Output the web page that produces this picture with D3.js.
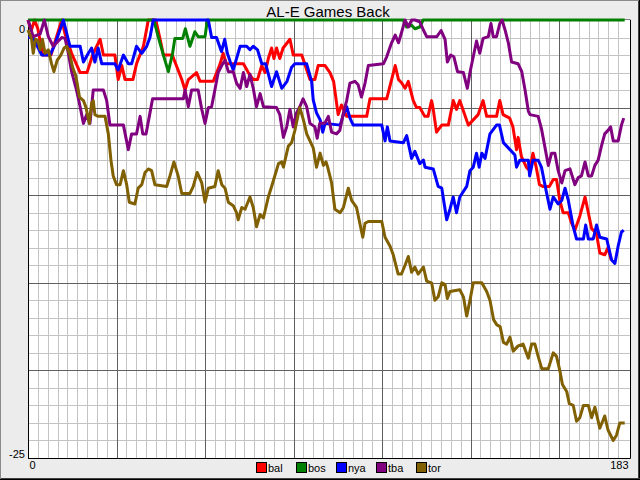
<!DOCTYPE html>
<html><head><meta charset="utf-8">
<script src="https://cdn.jsdelivr.net/npm/d3@7"></script>
<style>html,body{margin:0;padding:0;background:#ececec;}svg{display:block;}</style>
</head><body>
<svg id="c" width="640" height="480"></svg>
<script>
const title = "AL-E Games Back";
const teams = ["bal", "bos", "nya", "tba", "tor"];
const colors = ["#ff0000", "#008000", "#0000ff", "#800080", "#806000"];
const xTickLabels = [0, 183];
const yTickLabels = [0, -25];

// [day, games back]
const bal = [[0,0],[1,-0.6],[2,0],[3,-0.5],[4.5,-2],[7,-2],[10.3,0],[11.3,-0.8],[13.3,-1.9],[15.9,-3],[18,-3],[19.9,-1.9],[22,-1.1],[23,-2],[26.5,-2],[27.5,-3.4],[28.6,-2.6],[29.6,-3.4],[32,-3.4],[33.1,-2.5],[35.2,-1.5],[36.7,0],[39,0],[40.3,-1.1],[41.3,-2],[44,-2],[46.9,-3.4],[47.9,-4],[48.9,-3.4],[51.4,-3],[52.5,-3.5],[56.5,-3.5],[58.6,-2.5],[59.5,-1.9],[60.5,-2.5],[65.7,-2.5],[67.2,-3],[68.7,-3.4],[70,-3.4],[71.3,-2.6],[72.3,-3],[73.3,-2.2],[74.3,-1.6],[75,-2.2],[75.8,-1.6],[76.8,-2.2],[77.8,-1.6],[79.9,-1.1],[80.9,-2],[83.5,-2],[86,-3.4],[87.5,-3.4],[88.5,-2.6],[90.6,-2.6],[92.1,-3],[93.2,-3.5],[94.6,-5.4],[95.6,-4.85],[97.2,-5.5],[103.3,-5.5],[104.3,-4.5],[109.4,-4.5],[110.9,-3.4],[112,-2.6],[113,-3.4],[114,-3.6],[115,-3.9],[116,-3.5],[117.5,-4.6],[118.5,-5],[119.5,-5],[121,-5.5],[122,-5.5],[122.6,-5],[123.1,-4.6],[123.6,-5.1],[124.6,-6.4],[126.2,-6],[128.2,-6],[129.7,-4.6],[130.7,-5.1],[131.7,-4.6],[134.3,-6],[135.8,-5.7],[137.3,-5.4],[138.8,-4.6],[139.9,-5.5],[142.9,-5.5],[143.9,-4.6],[144.9,-5.4],[146.9,-5.6],[147.9,-6.1],[149,-7.4],[149.5,-6.7],[150.5,-7.8],[152,-8.4],[153,-8.6],[154,-7.6],[155,-8.4],[156,-9.4],[157,-9.5],[159,-9.5],[160.2,-9.1],[161.2,-9.1],[162.2,-10.3],[163.2,-11],[164.8,-11],[165.8,-11.6],[166.8,-12],[168.3,-11.2],[169.9,-10.1],[170.9,-11],[171.9,-11.9],[173.4,-12.2],[174.4,-13.3],[175.9,-13.4],[176.9,-13],[177.9,-13.7]];
const bos = [[0,0],[38.4,0],[39.7,-0.95],[41.3,-2],[42.8,-2.95],[44.1,-1.9],[44.8,-1.05],[47.2,-1.05],[48,-0.5],[49.4,-1.5],[50.9,-0.67],[51.9,-0.95],[54,-0.95],[54.7,0],[114.5,0],[115.5,-0.4],[117,-0.3],[118,-0.5],[119.5,-0.4],[120.5,0],[182,0]];
const nya = [[0,-1],[1.5,-1],[4.2,-2],[6.7,-2],[8.2,-1.4],[10.8,0],[12.8,-1.5],[15.9,-1.5],[16.9,-2.4],[18.4,-1.9],[19.4,-1.6],[20.4,-2.4],[21.4,-1.6],[22.5,-2.5],[26.5,-2.5],[27.5,-2.85],[29.1,-2],[30.6,-2.5],[31.6,-2.5],[33.1,-1.5],[34.7,-1.9],[36.2,-1.5],[37.2,-1],[38.2,0],[55,0],[56,-1],[57.5,-1],[59,-1.8],[60,-1.1],[60.8,-1.9],[61.7,-2.4],[62.6,-2.85],[64.7,-1.5],[66.7,-1.5],[67.7,-1.7],[68.7,-1.5],[70,-1.7],[71.3,-2.5],[72.5,-2.5],[74.3,-3.8],[75.8,-2.95],[77.4,-3.9],[79,-3.5],[80.4,-2.7],[81.4,-2.5],[85,-2.5],[86.5,-3.5],[87,-4.57],[88,-5.3],[89.1,-5.7],[89.9,-6.4],[90.6,-5.9],[95.2,-6],[96.2,-5.4],[97.2,-4.95],[98.2,-5.6],[99.2,-6],[107.9,-6],[108.9,-6.9],[109.6,-6.1],[110.4,-6.9],[114.5,-7],[115.5,-6.6],[117,-7.9],[118,-7.5],[119.5,-8.2],[120.6,-8],[121.1,-8.4],[123.6,-8.5],[125.1,-9.5],[126.2,-9.6],[127.7,-11.4],[128.7,-10.8],[129.7,-10.1],[130.7,-11],[131.7,-10.1],[133.8,-9.5],[134.8,-8.6],[135.8,-8.4],[136.8,-7.6],[137.6,-8.4],[138.4,-7.6],[139.4,-7.9],[140.9,-6.5],[142.9,-6],[143.8,-6],[145,-7],[146.5,-7.3],[148.5,-7.7],[149,-8.4],[150,-8],[152.6,-8],[153,-8.9],[154,-8],[155.6,-8],[156.6,-8.4],[158.2,-9.9],[159.2,-10.8],[160.2,-10.1],[161.7,-10.5],[162.8,-10.3],[163.8,-9.6],[164.8,-10.3],[166.3,-11.8],[167.3,-12.5],[169.4,-12.5],[170.1,-11.7],[170.9,-12.5],[172.4,-12.5],[173.4,-11.7],[174.4,-12.4],[176.5,-12.5],[178,-13.7],[179,-13.9],[180,-12.9],[181,-12.1],[181.7,-12]];
const tba = [[0,0],[1.6,-0.95],[3.7,-0.8],[5,0],[6.2,-0.95],[7.7,-1.5],[10.3,-1],[11.3,-1.05],[12.3,-1.9],[13.3,-2.95],[14.8,-4],[15.9,-4.95],[16.9,-5.9],[17.9,-5.4],[18.9,-5.9],[19.9,-4],[23,-4],[24,-4.6],[25,-6],[29.1,-6],[30.6,-7.4],[31.6,-6.5],[33.1,-6.5],[34.2,-5.5],[35,-6.5],[36,-6.5],[37,-5.5],[38,-4.5],[47.4,-4.5],[47.9,-4],[48.9,-4.95],[49.9,-4],[51.9,-4],[53,-5.1],[54,-5.9],[55,-5],[56,-4.95],[57,-4],[58,-3],[59.1,-2.6],[60.1,-2.3],[61.1,-2.95],[62.6,-2.95],[63.6,-3.6],[64.7,-3.9],[65.7,-3],[66.7,-3.8],[67.7,-3.1],[68.7,-3.9],[69.7,-4.95],[70.8,-4.2],[71.8,-4.95],[75.8,-5],[76.8,-5.4],[77.9,-6.7],[78.9,-6.1],[79.9,-5.1],[80.9,-6.1],[81.9,-5.3],[82.9,-4.95],[83.9,-4.5],[85,-4.95],[86,-5.9],[87.5,-6.1],[88.2,-6.75],[89,-5.9],[90.5,-5.9],[91.6,-5.5],[92.6,-6.4],[94.1,-6.5],[95.1,-6.3],[96.2,-5.3],[97.2,-4.6],[98.2,-3.6],[99.7,-3.5],[100.7,-3.7],[101.7,-4.4],[102.8,-3.6],[103.8,-2.6],[108.4,-2.5],[109.4,-2.1],[110.9,-1.3],[112,-0.86],[113,-1.3],[114,-0.67],[115,0],[116,-0.4],[117,0],[118,0],[119.5,-0.1],[120.6,-0.57],[121.6,-0.95],[124.7,-0.95],[126,-0.6],[127.2,-1.1],[127.9,-2.4],[128.9,-2],[129.9,-2.1],[131,-2.95],[132.8,-3],[134,-3.9],[134.8,-3],[135.8,-2.1],[136.8,-1.2],[137.8,-1.9],[138.8,-1.05],[140.4,-0.95],[141.2,-0.2],[141.9,-0.95],[142.9,-0.95],[143.9,-0.2],[144.6,0],[145.5,-0.57],[146.5,-1.3],[147.5,-2.4],[149.5,-2.5],[150.6,-2.95],[151.6,-4],[152.6,-5.2],[153.1,-5.4],[155.6,-5.5],[156.6,-6.2],[157.6,-7.2],[158.7,-8.3],[159.7,-7.6],[160.7,-7.6],[161.7,-8.6],[162.8,-9.3],[163.8,-8.6],[165.3,-8.5],[166.8,-9.4],[167.8,-9],[168.8,-8.9],[169.9,-8.1],[170.9,-8.9],[171.9,-8.9],[172.9,-8.3],[173.9,-8],[174.9,-7.2],[175.9,-6.5],[176.9,-6.3],[177.7,-6.1],[178.5,-6.9],[180,-6.9],[181,-6],[181.7,-5.6]];
const tor = [[0,-0.57],[1.1,-1.1],[1.6,-1.9],[2.3,-1.1],[3.1,-1.2],[3.7,-1.7],[4.4,-1.1],[5.2,-1.9],[6.2,-1.7],[7.2,-2.5],[7.9,-2.95],[8.9,-2.3],[10,-2],[11,-1.6],[11.8,-1.5],[12.8,-2],[13.6,-2.7],[14.6,-3.2],[15.7,-4.4],[16.9,-4.6],[17.7,-5],[18.7,-5.9],[19.4,-4.75],[19.9,-4.6],[20.4,-5.4],[21.4,-5.5],[23.5,-5.5],[24.5,-6.5],[25.3,-8],[26,-8.9],[27,-9.4],[28.1,-9.4],[29.1,-8.6],[30.1,-9.4],[30.9,-10.4],[32.6,-10.5],[33.6,-9.6],[34.7,-9.4],[35.7,-8.7],[36.7,-8.5],[37.7,-8.6],[38.7,-9.4],[42.3,-9.5],[43.3,-8.9],[44.5,-8.1],[45.8,-8.9],[46.9,-9.9],[49.4,-9.9],[50.4,-9.5],[51.6,-8.7],[53,-9.3],[54,-10.4],[55,-9.6],[57,-9.5],[58,-8.6],[59.1,-9.4],[60.1,-9.6],[61.1,-10.4],[62.6,-10.6],[63.6,-11],[64.1,-11.4],[65.2,-10.7],[66.2,-10.8],[67.7,-10.1],[68.7,-10.7],[69.7,-11.8],[70.8,-11.1],[71.8,-11.3],[73.3,-10.1],[74.3,-9.5],[76.4,-8.2],[77.4,-8.1],[77.9,-8.4],[79.4,-7.2],[80.4,-7],[81.4,-6.3],[82.4,-5.4],[82.9,-5],[84,-5.7],[85,-6.5],[87,-7.3],[88,-8.4],[89.1,-7.6],[90.1,-8.3],[90.9,-8.1],[91.4,-8.4],[92.6,-9.3],[93.6,-10.8],[95.2,-11],[96.2,-10.7],[97.7,-9.6],[98.7,-10.3],[100.2,-10.7],[102.1,-12.4],[102.8,-11.6],[103.8,-11.5],[107.9,-11.5],[108.9,-12.4],[110.4,-12.9],[111.4,-13.4],[112.9,-14.5],[113.9,-14.5],[115,-14],[116,-13.5],[117,-14.4],[118,-14.1],[119,-14.5],[120.6,-14.1],[121.6,-14.9],[123.1,-15],[124.1,-16],[125.1,-15.8],[126.2,-15],[127.2,-15.1],[127.9,-15.9],[128.7,-15.5],[131.7,-15.4],[132.8,-15.8],[133.8,-16.9],[134.8,-16],[135.8,-15],[138.4,-15],[139.9,-15.5],[140.9,-16],[142,-17.1],[143,-17.4],[144,-17.5],[145,-18.4],[146,-18.5],[147,-18.1],[148,-18.9],[149.5,-18.6],[151,-18.5],[152.6,-19.3],[153.6,-18.5],[154.6,-18.5],[155.6,-19.2],[156.7,-19.9],[158.7,-19.9],[160.2,-19],[161.2,-19.2],[162.2,-20],[163,-20.8],[164.3,-21.2],[165.1,-21.9],[166.3,-22],[167.3,-22.9],[168.3,-22.7],[169.4,-22],[170.9,-22],[171.9,-22.7],[172.9,-22.1],[174.4,-23.3],[175.9,-22.6],[176.9,-23.4],[178.5,-24],[179.5,-23.7],[180.5,-23],[182,-23]];

const seriesData = [bal, bos, nya, tba, tor];

const W = 640, H = 480;
const L = 28, R = 628, T = 20, B = 458;
const svg = d3.select("#c");
const font = "'Liberation Sans', Arial, sans-serif";

// background and window frame
svg.append("rect").attr("x",0).attr("y",0).attr("width",W).attr("height",H).attr("fill","#ececec");
svg.append("rect").attr("x",0.5).attr("y",0.5).attr("width",W-1).attr("height",H-1).attr("fill","none").attr("stroke","#8a8a8a");
svg.append("line").attr("x1",W-1.5).attr("x2",W-1.5).attr("y1",1).attr("y2",H).attr("stroke","#404040");
svg.append("line").attr("x1",W-0.5).attr("x2",W-0.5).attr("y1",0).attr("y2",H).attr("stroke","#000");
svg.append("line").attr("y1",H-1.5).attr("y2",H-1.5).attr("x1",1).attr("x2",W).attr("stroke","#404040");
svg.append("line").attr("y1",H-0.5).attr("y2",H-0.5).attr("x1",0).attr("x2",W).attr("stroke","#000");

const x = d3.scaleLinear().domain([0, 183]).range([L, R]);
const y = d3.scaleLinear().domain([-25, 0]).range([B, T]);

// plot background
svg.append("rect").attr("x",L).attr("y",T).attr("width",R-L+2).attr("height",B-T).attr("fill","#fff");

// grids through axes
const minorX = d3.range(3, 183, 3).filter(d => d % 27 !== 0);
const majorX = d3.range(27, 183, 27);
const minorY = d3.range(-24, 0, 1).filter(d => d % 5 !== 0);
const majorY = d3.range(-20, 0, 5);

function grid(g, color) {
  g.select(".domain").remove();
  g.selectAll(".tick text").remove();
  g.selectAll(".tick line").attr("stroke", color).attr("stroke-width", 1).attr("shape-rendering","crispEdges");
}
svg.append("g").attr("transform",`translate(0,${B})`)
  .call(d3.axisBottom(x).tickValues(minorX).tickSize(-(B-T)).tickFormat(""))
  .call(g => grid(g, "#c4c4c4"));
svg.append("g").attr("transform",`translate(${L},0)`)
  .call(d3.axisLeft(y).tickValues(minorY).tickSize(-(R-L+2)).tickFormat(""))
  .call(g => grid(g, "#c4c4c4"));
svg.append("g").attr("transform",`translate(0,${B})`)
  .call(d3.axisBottom(x).tickValues(majorX).tickSize(-(B-T)).tickFormat(""))
  .call(g => grid(g, "#606060"));
svg.append("g").attr("transform",`translate(${L},0)`)
  .call(d3.axisLeft(y).tickValues(majorY).tickSize(-(R-L+2)).tickFormat(""))
  .call(g => grid(g, "#606060"));

// plot frame
svg.append("line").attr("x1",L+0.5).attr("x2",L+0.5).attr("y1",T).attr("y2",B+0.5).attr("stroke","#000");
svg.append("line").attr("x1",L).attr("x2",R+2.5).attr("y1",B+0.5).attr("y2",B+0.5).attr("stroke","#000");
svg.append("line").attr("x1",R+2.5).attr("x2",R+2.5).attr("y1",T).attr("y2",B+0.5).attr("stroke","#000");
svg.append("line").attr("x1",L).attr("x2",R+2.5).attr("y1",T-0.5).attr("y2",T-0.5).attr("stroke","#808080");

// series
const line = d3.line().x(d => x(d[0])).y(d => y(d[1]));
teams.forEach((t, i) => {
  svg.append("path").datum(seriesData[i])
    .attr("d", line)
    .attr("fill","none")
    .attr("stroke", colors[i])
    .attr("stroke-width", 3)
    .attr("stroke-linejoin","round");
});

// axis labels
const yAx = svg.append("g").attr("transform",`translate(${L-1},0)`)
  .call(d3.axisLeft(y).tickValues(yTickLabels).tickSize(0).tickPadding(2).tickFormat(d => d === 0 ? "0" : "-" + Math.abs(d)));
yAx.select(".domain").remove();
yAx.selectAll("text").attr("font-family", font).attr("font-size", 11).attr("fill","#000")
  .attr("dy", d => d === 0 ? "0.95em" : "0em");
yAx.selectAll(".tick").filter(d => d === 0).select("text").attr("y", 0).attr("dy", null).attr("transform","translate(0,12)");
yAx.selectAll(".tick").filter(d => d === -25).select("text").attr("y", 0).attr("dy", null).attr("transform","translate(0,-1)");

const xAx = svg.append("g").attr("transform",`translate(0,${B})`)
  .call(d3.axisBottom(x).tickValues(xTickLabels).tickSize(0).tickPadding(0).tickFormat(d3.format("d")));
xAx.select(".domain").remove();
xAx.selectAll("text").attr("font-family", font).attr("font-size", 11).attr("fill","#000")
  .attr("y", 11).attr("dy", null)
  .attr("text-anchor", d => d === 0 ? "start" : "end")
  .attr("dx", d => d === 0 ? 1 : 0);

// title
svg.append("text").attr("x", (L + R) / 2).attr("y", 17).attr("text-anchor","middle")
  .attr("font-family", font).attr("font-size", 15).attr("fill","#000").text(title);

// legend
const lg = svg.append("g");
teams.forEach((t, i) => {
  const lx = 256 + i * 40;
  lg.append("rect").attr("x", lx + 0.5).attr("y", 462.5).attr("width", 10).attr("height", 10)
    .attr("fill", colors[i]).attr("stroke", "#000");
  lg.append("text").attr("x", lx + 12).attr("y", 472).attr("font-family", font).attr("font-size", 11)
    .attr("fill","#000").text(t);
});
</script>
</body></html>
